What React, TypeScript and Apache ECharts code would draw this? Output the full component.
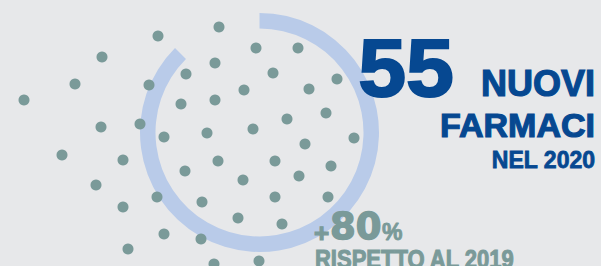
import { useEffect, useRef } from "react";
import * as echarts from "echarts";

const dotX = [158, 219, 102, 75, 24, 256, 298, 186, 215, 273, 149, 244, 181, 215, 287, 101, 140, 164, 207, 253, 305, 62, 123, 185, 218, 275, 299, 96, 157, 243, 202, 275, 123, 238, 282, 164, 201, 128, 214, 259, 337, 309, 326, 354, 331, 328];
const dotY = [36, 27, 57, 84, 100, 48, 48, 74, 63, 73, 85, 90, 104, 100, 119, 127, 124, 137, 133, 129, 144, 155, 160, 171, 161, 161, 176, 185, 197, 180, 202, 197, 207, 218, 224, 234, 239, 249, 264, 261, 79, 89, 113, 138, 166, 197];
const ringValues = [315, 45];
const headline = "55";
const headlineWords = ["NUOVI", "FARMACI", "NEL 2020"];
const growthParts = ["+", "80", "%"];
const growthNote = "RISPETTO AL 2019";

const BG = "#e7e8ea";
const TEAL = "#7a9a99";
const RING = "#b9cbe9";
const BLUE = "#064891";
const SANS = '"Liberation Sans", Arial, sans-serif';
const WIDE = '"DejaVu Sans", sans-serif';

function txt(text: string, x: number, y: number, font: string, fill: string, align: string, lw: number, extra: any = {}) {
  return {
    type: "text",
    x,
    y,
    z: 10,
    ...extra,
    style: { text, font, fill, align, verticalAlign: "middle", stroke: fill, lineWidth: lw },
  };
}

export default function App() {
  const ref = useRef<HTMLDivElement>(null);
  useEffect(() => {
    const chart = echarts.init(ref.current!, null, { renderer: "svg" });
    const dots = dotX.map((x, i) => [x, dotY[i]]);
    chart.setOption({
      animation: false,
      backgroundColor: BG,
      grid: { left: 0, right: 0, top: 0, bottom: 0 },
      xAxis: { type: "value", min: 0, max: 601, show: false },
      yAxis: { type: "value", min: 0, max: 266, inverse: true, show: false },
      series: [
        {
          type: "pie",
          center: [259.5, 132.5],
          radius: [104, 119.5],
          startAngle: 90,
          clockwise: true,
          silent: true,
          label: { show: false },
          labelLine: { show: false },
          emphasis: { disabled: true },
          z: 1,
          data: [
            { value: ringValues[0], itemStyle: { color: RING } },
            { value: ringValues[1], itemStyle: { color: "transparent" } },
          ],
        },
        {
          type: "scatter",
          data: dots,
          symbol: "circle",
          symbolSize: 11,
          itemStyle: { color: TEAL, opacity: 1 },
          silent: true,
          z: 3,
        },
      ],
      graphic: [
        txt(headline, 454, 67.5, `bold 82px ${SANS}`, BLUE, "right", 2, { scaleX: 1.05 }),
        txt(headlineWords[0], 595, 83, `bold 36px ${SANS}`, BLUE, "right", 1.2),
        txt(headlineWords[1], 595, 124.5, `bold 34px ${SANS}`, BLUE, "right", 1.2),
        txt(headlineWords[2], 595, 160, `bold 23px ${SANS}`, BLUE, "right", 0.8),
        txt(growthParts[0], 314, 233, `bold 26px ${SANS}`, TEAL, "left", 1.2),
        txt(growthParts[1], 330, 226.5, `bold 37px ${WIDE}`, TEAL, "left", 1.4),
        txt(growthParts[2], 382, 231.5, `bold 23px ${SANS}`, TEAL, "left", 0.8),
        txt(growthNote, 315, 259, `bold 22px ${SANS}`, TEAL, "left", 0.9, { scaleY: 1.15 }),
      ],
    });
    return () => chart.dispose();
  }, []);
  return <div ref={ref} style={{ position: "absolute", left: 0, top: 0, width: 601, height: 266 }} />;
}
